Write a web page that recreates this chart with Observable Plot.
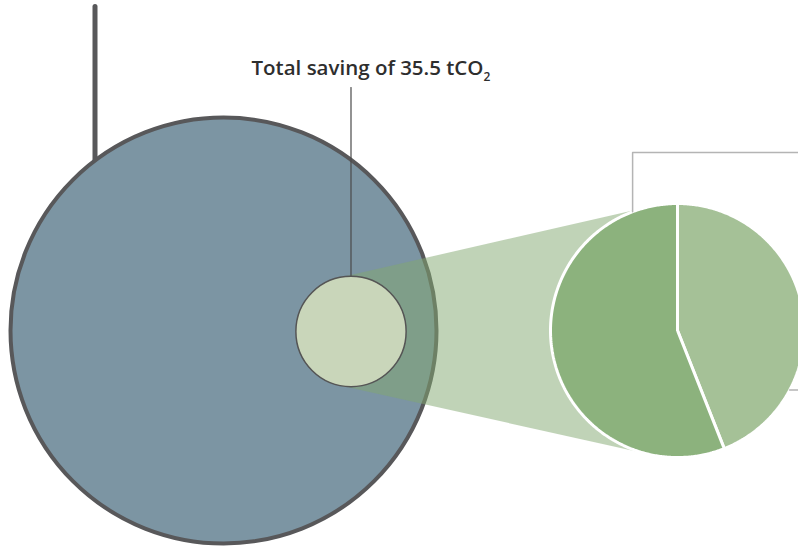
<!DOCTYPE html>
<html><head><meta charset="utf-8">
<script src="https://cdn.jsdelivr.net/npm/d3@7"></script>
<script src="https://cdn.jsdelivr.net/npm/@observablehq/plot@0.6"></script>
<style>html,body{margin:0;padding:0;overflow:hidden;background:#fff}svg{overflow:hidden}</style>
</head><body><div id="chart"></div>
<script>
// ---- data ----
const circleNames = ["Total emissions", "Total saving"];
const circleValues = [530, 35.5];          // tCO2 (area-proportional)
const sliceNames = ["Share B", "Share A"];
const sliceShares = [44, 56];              // % of saving, clockwise from top
const labelText = "Total saving of 35.5 tCO";
const labelSub = "2";

// ---- layout ----
const W = 798, H = 546;
const circlePos = [{x: 223, y: 330}, {x: 350.5, y: 331}];
const pie = {x: 677, y: 330, r: 127};
const rMax = 213;
const colors = {big: "#7c95a3", bigStroke: "#58585a", small: "#c9d6ba", wedge: "#82a870",
  slices: ["#a5c197", "#8cb27d"], leader: "#b4b4b4", dark: "#4a4a4a"};

const rScale = d3.scaleSqrt().domain([0, circleValues[0]]).range([0, rMax]);
const circles = circleNames.map((n, i) => ({name: n, value: circleValues[i], cx: circlePos[i].x, cy: circlePos[i].y}));
const big = circles[0], small = circles[1];
const r1 = rScale(small.value), rb = rScale(big.value);

// wedge: external tangents between the small circle and the pie
const dx = pie.x - small.cx, dy = pie.y - small.cy, D = Math.hypot(dx, dy);
const phi = Math.atan2(dy, dx), beta = Math.acos((r1 - pie.r) / D);
const tp = (c, r, a) => ({x: c.x + r * Math.cos(a), y: c.y + r * Math.sin(a)});
const sc = {x: small.cx, y: small.cy};
const wedge = [tp(sc, r1, phi - beta), tp(pie, pie.r, phi - beta), tp(pie, pie.r, phi + beta), tp(sc, r1, phi + beta)];

// pie slices
const total = d3.sum(sliceShares);
let acc = 0;
const slices = sliceNames.map((n, i) => {
  const a0 = acc / total * 2 * Math.PI; acc += sliceShares[i];
  const a1 = acc / total * 2 * Math.PI;
  const pts = [{x: pie.x, y: pie.y}];
  const steps = Math.max(8, Math.ceil((a1 - a0) / 0.01));
  for (let k = 0; k <= steps; k++) {
    const a = a0 + (a1 - a0) * k / steps;
    pts.push({x: pie.x + pie.r * Math.sin(a), y: pie.y - pie.r * Math.cos(a)});
  }
  pts.push({x: pie.x, y: pie.y});
  return {name: n, pts};
});

// leader lines
const atAngle = deg => ({x: pie.x + pie.r * Math.sin(deg * Math.PI / 180), y: pie.y - pie.r * Math.cos(deg * Math.PI / 180)});
const lt = atAngle(-20.7);
const leaderTop = [lt, {x: lt.x, y: 152}, {x: W, y: 152}];
const lr = atAngle(118);
const leaderRight = [lr, {x: W, y: lr.y}];
const leaderLabel = [{x: small.cx, y: 87}, {x: small.cx, y: small.cy - r1}];
const topX = 94.5;
const topLine = [{x: topX, y: 6}, {x: topX, y: big.cy - Math.sqrt(rb * rb - (topX - big.cx) ** 2)}];

const chart = Plot.plot({
  width: W, height: H, margin: 0,
  x: {domain: [0, W], range: [0, W], axis: null},
  y: {domain: [0, H], range: [0, H], axis: null},
  r: {type: "sqrt", domain: [0, circleValues[0]], range: [0, rMax]},
  style: {background: "#fff", overflow: "hidden"},
  marks: [
    Plot.line(topLine, {x: "x", y: "y", stroke: colors.bigStroke, strokeWidth: 5}),
    Plot.dot([big], {x: "cx", y: "cy", r: "value", fill: colors.big, stroke: colors.bigStroke, strokeWidth: 4}),
    Plot.line(wedge, {x: "x", y: "y", fill: colors.wedge, fillOpacity: 0.5, stroke: "none"}),
    Plot.line(leaderLabel, {x: "x", y: "y", stroke: colors.dark, strokeWidth: 1.2}),
    Plot.dot([small], {x: "cx", y: "cy", r: "value", fill: colors.small, stroke: "#555", strokeWidth: 1.5}),
    ...slices.map((s, i) => Plot.line(s.pts, {x: "x", y: "y", fill: colors.slices[i], stroke: "white", strokeWidth: 3, strokeLinejoin: "miter"})),
    Plot.line(leaderTop, {x: "x", y: "y", stroke: colors.leader, strokeWidth: 1.5}),
    Plot.line(leaderRight, {x: "x", y: "y", stroke: colors.leader, strokeWidth: 1.5}),
    Plot.text([labelText], {x: () => 251, y: () => 68.4, text: d => d, textAnchor: "start", fontSize: 20.5, fontWeight: 600, fontFamily: "Open Sans", fill: "#2e2e2e", className: "lbl"})
  ]
});
document.getElementById("chart").appendChild(chart);
d3.select(chart).selectAll("g.lbl text").append("tspan").attr("font-size", 12).attr("dy", 6).text(labelSub);
</script>
</body></html>
